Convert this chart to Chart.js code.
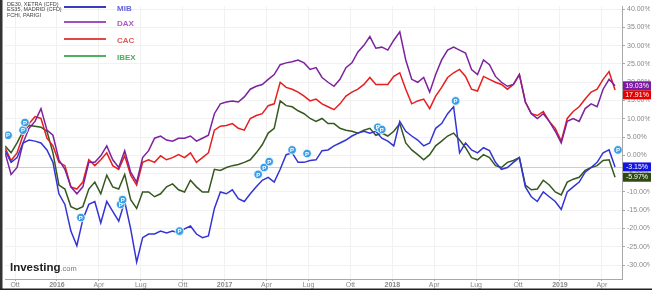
<!DOCTYPE html>
<html lang="it">
<head>
  <meta charset="UTF-8" />
  <title>MIB DAX CAC IBEX</title>
  <script src="https://cdn.jsdelivr.net/npm/chart.js"></script>
  <style>
    body { margin: 0; background: #fff; }
    #wrap { width: 652px; height: 294px; position: relative; }
  </style>
</head>
<body>
  <div id="wrap"><canvas id="c" width="652" height="294"></canvas></div>
  <script>
    // months from Oct 2015, one sample about every 13 days
    const T0 = -0.713;
    const STEP = 0.428;

    const mib = [1.3, -1.9, -0.6, 3.4, 4.2, 3.9, 3.4, 1.5, -1.9, -10.5,
      -13.4, -20.7, -24.7, -17.5, -13.4, -12.6, -18.5, -12.6, -15.3, -18.0,
      -12.6, -20.1, -29.2, -22.5, -21.5, -21.5, -20.7, -21.2, -20.7, -21.2,
      -20.1, -19.3, -21.5, -22.5, -22.0, -14.5, -10.0, -10.5, -9.4, -11.8,
      -12.6, -10.5, -8.6, -6.8, -6.0, -7.3, -3.8, 0.2, 0.7, -1.9,
      -1.9, -1.4, -1.2, 1.3, 1.5, 2.6, 3.4, 4.2, 5.3, 6.1,
      6.6, 6.1, 6.6, 4.7, 3.9, 2.6, 9.3, 6.6, 5.3, 4.2,
      2.6, 3.4, 7.4, 8.7, 11.4, 13.3, 0.7, 3.4, 1.5, 0.7,
      2.1, 1.3, -1.9, -3.8, -3.3, -1.9, -0.6, -8.6, -11.3, -12.6,
      -10.0, -11.3, -12.6, -14.8, -10.0, -8.6, -7.3, -4.6, -3.3, -1.9,
      0.7, 1.5, -3.15];
    const dax = [0.7, -5.2, -3.3, 3.4, 7.4, 9.3, 12.8, 6.9, 5.5, -1.2,
      -3.8, -8.6, -10.5, -8.6, -1.9, -1.9, -0.1, 2.6, -1.2, -3.3,
      1.3, -4.6, -7.3, -0.6, 1.3, 4.7, 5.3, 4.2, 3.9, 4.7,
      4.7, 5.3, 3.9, 4.7, 5.5, 11.4, 14.1, 14.6, 14.9, 14.6,
      16.0, 18.1, 18.9, 19.4, 20.8, 22.1, 24.8, 25.3, 25.6, 26.1,
      25.3, 23.5, 24.0, 21.3, 20.0, 18.9, 20.8, 24.0, 25.3, 28.3,
      30.1, 32.5, 29.3, 29.6, 28.8, 31.5, 33.8, 26.1, 20.8, 20.0,
      21.3, 17.3, 22.1, 26.1, 28.8, 29.6, 28.8, 28.0, 23.5, 22.1,
      26.1, 24.8, 21.6, 20.0, 18.9, 19.4, 22.1, 14.6, 11.4, 10.1,
      11.4, 9.3, 6.6, 3.4, 9.3, 10.1, 9.3, 12.8, 14.1, 13.3,
      18.1, 20.8, 19.03];
    const cac = [2.1, -1.4, 0.7, 5.5, 8.7, 10.6, 10.1, 4.7, 2.6, -1.9,
      -2.8, -8.6, -9.2, -7.3, -1.2, -2.8, -1.2, 0.7, -2.8, -3.8,
      -0.1, -5.4, -8.1, -1.9, -1.2, -1.9, -0.1, -1.2, -0.6, 0.2,
      -0.6, 0.7, -1.9, -0.6, 0.7, 6.9, 8.0, 8.2, 8.7, 7.4,
      6.9, 10.1, 10.9, 11.4, 13.6, 14.1, 20.0, 18.6, 18.1, 17.3,
      16.2, 14.9, 15.4, 14.1, 13.3, 12.5, 14.1, 16.2, 17.3, 18.1,
      19.4, 21.3, 19.4, 19.4, 19.4, 21.6, 22.6, 18.1, 14.1, 14.9,
      15.4, 12.8, 16.2, 18.6, 21.3, 22.6, 23.5, 21.6, 18.1, 17.6,
      21.6, 20.8, 20.0, 19.4, 18.1, 19.4, 22.1, 14.6, 11.4, 10.9,
      12.0, 9.3, 7.4, 3.9, 10.1, 12.0, 13.3, 15.4, 17.3, 18.1,
      20.8, 22.9, 17.91];
    const ibex = [2.6, 0.7, 3.4, 6.6, 8.2, 8.0, 7.7, 6.6, 0.7, -8.1,
      -9.2, -14.0, -14.8, -14.0, -9.2, -7.3, -10.5, -5.4, -8.6, -9.2,
      -5.2, -12.1, -14.5, -10.0, -10.0, -11.3, -10.5, -8.6, -7.8, -9.4,
      -10.0, -6.8, -8.6, -10.0, -10.0, -3.8, -4.1, -3.3, -2.8, -2.5,
      -1.9, -1.2, 0.7, 2.9, 6.1, 7.4, 14.9, 13.6, 13.3, 12.2,
      11.4, 10.1, 9.3, 10.1, 8.7, 8.7, 7.4, 6.9, 6.6, 6.1,
      6.9, 7.4, 5.5, 6.1, 5.3, 6.6, 8.7, 3.4, 1.5, 0.2,
      -1.2, 0.2, 2.6, 3.9, 5.3, 6.1, 4.2, 2.1, -0.6, -1.2,
      0.2, -0.6, -2.8, -3.3, -1.9, -1.4, -0.6, -8.1, -9.4, -9.2,
      -6.8, -8.1, -10.0, -10.8, -7.3, -6.5, -6.0, -4.1, -3.3, -2.8,
      -1.4, -1.2, -5.97];

    // "P" event markers on the MIB line
    const pMonths = [-0.50, 0.57, 0.71, 4.71, 7.56, 7.70, 11.77, 17.40, 17.83, 18.19, 19.83, 20.90, 25.96, 26.25, 31.53, 43.15];
    const pValues = [5.5, 6.9, 9.0, -17.0, -13.4, -12.1, -20.7, -5.2, -3.3, -1.7, 1.5, 0.5, 7.7, 7.1, 14.9, 1.5];

    const xTicks = [0, 3, 6, 9, 12, 15, 18, 21, 24, 27, 30, 33, 36, 39, 42];
    const xLabels = ['Ott', '2016', 'Apr', 'Lug', 'Ott', '2017', 'Apr', 'Lug', 'Ott', '2018', 'Apr', 'Lug', 'Ott', '2019', 'Apr'];
    const yTicks = [-30, -25, -20, -15, -10, -5, 0, 5, 10, 15, 20, 25, 30, 35, 40];

    const names = ['MIB', 'DAX', 'CAC', 'IBEX'];
    const lineColors = ['#3434d4', '#7d229e', '#e61e1e', '#35581f'];
    const boxColors = ['#1414e0', '#7a1aa0', '#e60000', '#2e4a14'];
    const legendLine = ['#3a3ac0', '#a050b8', '#e04848', '#50b060'];
    const legendText = ['#6464d8', '#a85cc0', '#e05858', '#48b060'];
    const sources = ['DE30, XETRA (CFD)', 'ES35, MADRID (CFD)', 'FCHI, PARIGI'];

    const series = [mib, dax, cac, ibex];
    const FONT = 'Arial, "Liberation Sans", sans-serif';

    function pts(arr) {
      return arr.map((v, i) => ({ x: T0 + i * STEP, y: v }));
    }

    const overlay = {
      id: 'overlay',
      beforeDatasetsDraw(chart) {
        const { ctx, chartArea, scales } = chart;
        const y = Math.round(scales.y.getPixelForValue(mib[mib.length - 1])) + 0.5;
        ctx.save();
        ctx.strokeStyle = '#c9cbe6';
        ctx.lineWidth = 1;
        ctx.beginPath();
        ctx.moveTo(chartArea.left, y);
        ctx.lineTo(chartArea.right, y);
        ctx.stroke();
        ctx.restore();
      },
      afterDraw(chart) {
        const { ctx, chartArea, scales } = chart;
        ctx.save();

        // P labels
        const meta = chart.getDatasetMeta(4);
        ctx.fillStyle = '#fff';
        ctx.font = 'bold 6px ' + FONT;
        ctx.textAlign = 'center';
        ctx.textBaseline = 'middle';
        meta.data.forEach(p => ctx.fillText('P', p.x, p.y + 0.5));

        // source text
        ctx.textAlign = 'left';
        ctx.fillStyle = '#444';
        ctx.font = '5.5px ' + FONT;
        sources.forEach((s, i) => ctx.fillText(s, 7, 4 + i * 5.8));

        // legend
        const ly = [7, 22, 39, 56];
        names.forEach((n, i) => {
          ctx.strokeStyle = legendLine[i];
          ctx.lineWidth = 2;
          ctx.beginPath();
          ctx.moveTo(64, ly[i]);
          ctx.lineTo(106, ly[i]);
          ctx.stroke();
          ctx.fillStyle = legendText[i];
          ctx.font = 'bold 8px ' + FONT;
          ctx.fillText(n, 117, ly[i] + 2);
        });

        // logo
        ctx.textBaseline = 'alphabetic';
        ctx.fillStyle = '#222';
        ctx.font = 'bold 11.5px ' + FONT;
        ctx.fillText('Investing', 10, 271);
        const w = ctx.measureText('Investing').width;
        ctx.fillStyle = '#777';
        ctx.font = '7.5px ' + FONT;
        ctx.fillText('.com', 10 + w, 271);

        // last value boxes
        const boxes = series.map((s, i) => ({
          i, v: s[s.length - 1], y: scales.y.getPixelForValue(s[s.length - 1])
        })).sort((a, b) => a.y - b.y);
        let prev = -100;
        boxes.forEach(b => {
          let top = Math.max(b.y - 4.5, prev);
          prev = top + 9;
          ctx.fillStyle = boxColors[b.i];
          ctx.fillRect(chartArea.right + 1, top, 28, 9);
          ctx.fillStyle = '#fff';
          ctx.font = '7px ' + FONT;
          ctx.textAlign = 'center';
          ctx.textBaseline = 'middle';
          ctx.fillText(b.v.toFixed(2) + '%', chartArea.right + 15, top + 4.8);
        });

        // frame lines of the screenshot
        ctx.fillStyle = '#333';
        ctx.fillRect(0, 0, 2.5, 290);
        ctx.fillStyle = '#222';
        ctx.fillRect(0, 288.5, 652, 1.5);
        ctx.restore();
      }
    };

    const datasets = series.map((s, i) => ({
      label: names[i],
      data: pts(s),
      borderColor: lineColors[i],
      borderWidth: 1.5,
      pointRadius: 0,
      tension: 0,
      order: i === 0 ? 1 : 2 + i
    }));
    datasets.push({
      label: 'P',
      data: pMonths.map((m, i) => ({ x: m, y: pValues[i] })),
      showLine: false,
      pointRadius: 4.3,
      backgroundColor: '#3c9fe6',
      borderColor: '#ffffff',
      borderWidth: 0.8,
      order: 0
    });

    new Chart(document.getElementById('c').getContext('2d'), {
      type: 'line',
      data: { datasets },
      options: {
        responsive: false,
        animation: false,
        layout: { padding: { left: 3, right: 2, top: 0, bottom: 0 } },
        plugins: { legend: { display: false }, tooltip: { enabled: false } },
        scales: {
          x: {
            type: 'linear',
            min: -0.713,
            max: 43.44,
            afterBuildTicks: s => { s.ticks = xTicks.map(v => ({ value: v })); },
            afterFit: s => { s.height = 15; },
            grid: { color: '#f1f1f1', tickLength: 2, tickColor: '#aaa' },
            border: { color: '#a8a8a8' },
            ticks: {
              padding: 0,
              maxRotation: 0,
              autoSkip: false,
              color: '#888',
              font: c => ({ family: FONT, size: 7, weight: xLabels[c.index] && /^\d/.test(xLabels[c.index]) ? 'bold' : 'normal' }),
              callback: (v, i) => xLabels[i]
            }
          },
          y: {
            position: 'right',
            min: -33.8,
            max: 40.8,
            afterBuildTicks: s => { s.ticks = yTicks.map(v => ({ value: v })); },
            afterFit: s => { s.width = 28; },
            grid: { color: '#f1f1f1', tickLength: 3, tickColor: '#aaa' },
            border: { color: '#a8a8a8' },
            ticks: {
              padding: 2,
              color: '#888',
              font: { family: FONT, size: 7 },
              callback: v => v.toFixed(2) + '%'
            }
          }
        }
      },
      plugins: [overlay]
    });
  </script>
</body>
</html>
